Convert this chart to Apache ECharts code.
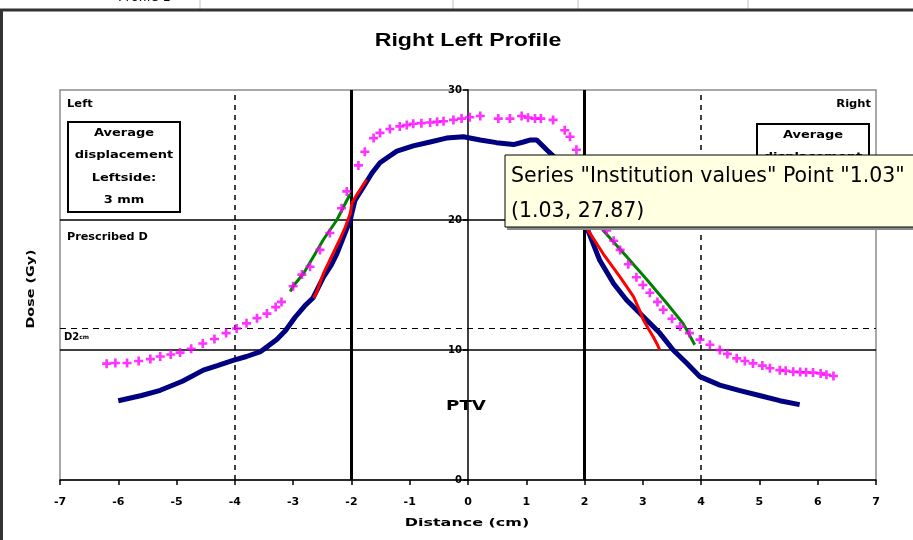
<!DOCTYPE html>
<html><head><meta charset="utf-8">
<script src="https://cdn.jsdelivr.net/npm/echarts@6/dist/echarts.min.js"></script>
<style>html,body{margin:0;padding:0;background:#fff}#c{width:913px;height:540px}</style>
</head><body><div id="c"></div>
<script>
// ---------- data ----------
const xTicks = [-7,-6,-5,-4,-3,-2,-1,0,1,2,3,4,5,6,7];
const yTicks = [0,10,20,30];
const navy = [[-6.0,6.1],[-5.6,6.5],[-5.28,6.9],[-4.9,7.6],[-4.54,8.45],[-4.3,8.8],[-4.03,9.2],[-3.8,9.5],[-3.57,9.85],[-3.43,10.3],[-3.28,10.8],[-3.13,11.5],[-2.97,12.5],[-2.8,13.4],[-2.66,14.0],[-2.48,15.6],[-2.35,16.5],[-2.25,17.4],[-2.11,19.0],[-2.02,20.0],[-1.94,21.5],[-1.8,22.5],[-1.65,23.6],[-1.51,24.4],[-1.35,24.9],[-1.22,25.3],[-0.94,25.7],[-0.65,26.0],[-0.37,26.3],[-0.08,26.4],[0.21,26.15],[0.49,25.95],[0.78,25.8],[0.95,26.0],[1.06,26.15],[1.18,26.15],[1.35,25.4],[1.49,24.8],[1.65,23.6],[1.8,22.2],[1.95,20.6],[2.04,19.4],[2.26,16.9],[2.5,15.1],[2.72,13.85],[3.0,12.6],[3.29,11.3],[3.52,10.0],[3.75,9.0],[3.98,7.95],[4.32,7.3],[4.65,6.9],[5.0,6.5],[5.35,6.1],[5.69,5.8]];
const institution = [[-6.2,8.95],[-6.05,9.0],[-5.85,9.0],[-5.65,9.15],[-5.45,9.3],[-5.28,9.5],[-5.1,9.65],[-4.94,9.8],[-4.75,10.1],[-4.55,10.5],[-4.35,10.85],[-4.15,11.3],[-3.97,11.65],[-3.8,12.05],[-3.62,12.45],[-3.45,12.8],[-3.3,13.3],[-3.2,13.7],[-3.0,14.9],[-2.85,15.8],[-2.71,16.4],[-2.54,17.7],[-2.37,19.0],[-2.17,20.9],[-2.08,22.2],[-1.88,24.2],[-1.77,25.25],[-1.62,26.3],[-1.51,26.7],[-1.34,27.0],[-1.17,27.2],[-1.05,27.3],[-0.94,27.4],[-0.8,27.45],[-0.65,27.5],[-0.53,27.55],[-0.42,27.6],[-0.25,27.7],[-0.11,27.8],[0.03,27.9],[0.21,28.0],[0.52,27.8],[0.72,27.8],[0.92,28.0],[1.03,27.87],[1.15,27.8],[1.25,27.8],[1.46,27.7],[1.66,26.9],[1.75,26.4],[1.86,25.4],[1.95,24.3],[2.05,23.0],[2.15,21.6],[2.25,20.3],[2.38,19.2],[2.5,18.4],[2.61,17.7],[2.75,16.6],[2.89,15.6],[3.0,15.0],[3.12,14.4],[3.25,13.7],[3.35,13.1],[3.5,12.4],[3.64,11.8],[3.8,11.3],[3.98,10.8],[4.15,10.4],[4.32,10.0],[4.45,9.7],[4.61,9.36],[4.75,9.15],[4.89,8.97],[5.05,8.8],[5.18,8.6],[5.35,8.45],[5.45,8.4],[5.58,8.33],[5.7,8.3],[5.8,8.28],[5.92,8.26],[6.05,8.2],[6.15,8.1],[6.27,8.0]];
const redLeft = [[-2.65,14.0],[-2.6,14.4],[-2.48,15.9],[-2.34,17.2],[-2.2,18.5],[-2.11,19.4],[-2.02,20.5],[-1.99,21.3],[-1.9,22.0],[-1.74,23.1]];
const redRight = [[1.95,20.8],[2.06,19.2],[2.32,17.4],[2.61,15.6],[2.84,14.1],[2.95,13.0],[3.01,12.3],[3.1,11.6],[3.18,11.0],[3.25,10.4],[3.29,10.0]];
const greenLeft = [[-3.05,14.5],[-3.0,14.9],[-2.82,15.9],[-2.65,17.2],[-2.48,18.5],[-2.25,20.0],[-2.08,21.5],[-2.02,22.0]];
const greenRight = [[2.15,20.5],[2.32,19.2],[2.72,17.2],[3.07,15.4],[3.41,13.6],[3.69,12.05],[3.89,10.4]];
const vLinesDashed = [-4,4];
const vLinesThick = [-2,2];
const hLinesSolid = [10,20];
const hLinesDashed = [11.7];

// ---------- chart ----------
const chart = echarts.init(document.getElementById('c'), null, {renderer:'canvas'});
const DJ = '"DejaVu Sans", sans-serif';
const plus = 'path://M3,0 L5.5,0 L5.5,3 L8.5,3 L8.5,5.5 L5.5,5.5 L5.5,8.5 L3,8.5 L3,5.5 L0,5.5 L0,3 L3,3 Z';

const GRID = {left:60, right:37, top:90, bottom:60};
const plotW = 913 - GRID.left - GRID.right;
const yAxisOffset = -plotW * (0 - (-7)) / (7 - (-7)); // place y axis at x = 0

const refLines = [];
vLinesDashed.forEach(v=>refLines.push({xAxis:v, lineStyle:{type:[5,5], width:1.5, color:'#000'}}));
vLinesThick.forEach(v=>refLines.push({xAxis:v, lineStyle:{type:'solid', width:3, color:'#000'}}));
hLinesSolid.forEach(v=>refLines.push({yAxis:v, lineStyle:{type:'solid', width:1.5, color:'#000'}}));
hLinesDashed.forEach(v=>refLines.push({yAxis:v, lineStyle:{type:[6,5], width:1.2, color:'#000'}}));

function lineSeries(name, data, color, w, z){
  return {name, type:'line', data, showSymbol:false, symbol:'none', smooth:false, z,
    lineStyle:{color, width:w}, itemStyle:{color}, animation:false};
}

const tipText1 = 'Series "Institution values" Point "1.03"';
const tipText2 = '(1.03, 27.87)';
function txt(x, y, t, opts){
  opts = opts || {};
  return {type:'text', x, y, scaleX:opts.sx||1.15, rotation:opts.rot||0, z:50,
    style:{text:t, font:opts.font||('bold 10px '+DJ), fill:'#000', align:opts.align||'left',
      verticalAlign:opts.va||'middle', lineHeight:opts.lh}};
}

chart.setOption({
  animation:false,
  backgroundColor:'#fff',
  grid:Object.assign({show:true, borderColor:'#8c8c8c', borderWidth:1.5, backgroundColor:'#fff'}, GRID),
  xAxis:{type:'value', min:-7, max:7, interval:1,
    axisLine:{show:true, onZero:false, lineStyle:{color:'#000', width:1.5}},
    axisTick:{show:true, length:5, lineStyle:{color:'#000', width:1.5}},
    axisLabel:{margin:17, fontFamily:DJ, fontWeight:'bold', fontSize:11, color:'#000'},
    splitLine:{show:false}},
  yAxis:{type:'value', min:0, max:30, interval:10, position:'left', offset:yAxisOffset,
    axisLine:{show:true, onZero:false, lineStyle:{color:'#000', width:1.5}},
    axisTick:{show:true, length:5, lineStyle:{color:'#000', width:1.5}},
    axisLabel:{margin:6, fontFamily:DJ, fontSize:10, fontWeight:'bold', color:'#000'},
    splitLine:{show:false}},
  graphic:[
    // spreadsheet strip above the chart
    {type:'text', x:118, y:-9, style:{text:'Profile 1', font:'13px '+DJ, fill:'#000'}, z:1},
    {type:'line', shape:{x1:200,y1:0,x2:200,y2:10}, style:{stroke:'#c0c0c0', lineWidth:1}},
    {type:'line', shape:{x1:453,y1:0,x2:453,y2:10}, style:{stroke:'#c0c0c0', lineWidth:1}},
    {type:'line', shape:{x1:578,y1:0,x2:578,y2:10}, style:{stroke:'#c0c0c0', lineWidth:1}},
    {type:'line', shape:{x1:748,y1:0,x2:748,y2:10}, style:{stroke:'#c0c0c0', lineWidth:1}},
    {type:'line', shape:{x1:0,y1:10,x2:913,y2:10}, style:{stroke:'#333', lineWidth:3}, z:60},
    {type:'line', shape:{x1:1.5,y1:10,x2:1.5,y2:540}, style:{stroke:'#333', lineWidth:3}, z:60},
    // titles
    txt(468, 41, 'Right Left Profile', {font:'bold 19px "Liberation Sans", Arial, sans-serif', align:'center', sx:1.22}),
    txt(467, 523, 'Distance (cm)', {font:'bold 11px '+DJ, align:'center', sx:1.45}),
    {type:'text', x:31, y:289, rotation:Math.PI/2, scaleX:1.3, z:50,
      style:{text:'Dose (Gy)', font:'bold 11px '+DJ, fill:'#000', align:'center', verticalAlign:'middle'}},
    // annotations inside the plot
    txt(67, 104, 'Left'),
    txt(871, 104, 'Right', {align:'right'}),
    {type:'rect', shape:{x:68,y:122,width:112,height:90}, style:{fill:'#fff', stroke:'#000', lineWidth:2}, z:40},
    txt(124, 167, 'Average\ndisplacement\nLeftside:\n3 mm', {align:'center', lh:22.5, sx:1.3}),
    {type:'rect', shape:{x:757,y:124,width:112,height:90}, style:{fill:'#fff', stroke:'#000', lineWidth:2}, z:40},
    txt(813, 169, 'Average\ndisplacement\nRightside:\n3 mm', {align:'center', lh:22.5, sx:1.3}),
    txt(67, 237, 'Prescribed D', {sx:1.12}),
    {type:'text', x:64, y:332, z:50, style:{rich:{a:{font:'bold 10px '+DJ, fill:'#000'}, b:{font:'bold 6px '+DJ, fill:'#000'}}, text:'{a|D2}{b|cm}'}},
    txt(466, 406, 'PTV', {font:'bold 14px '+DJ, align:'center', sx:1.3}),
    // tooltip box
    {type:'rect', shape:{x:507,y:157,width:420,height:73}, style:{fill:'#8a8a8a'}, z:99},
    {type:'rect', shape:{x:505,y:155,width:420,height:72}, style:{fill:'#ffffe1', stroke:'#000', lineWidth:1}, z:100},
    {type:'text', x:511, y:177, z:101, style:{text:tipText1, font:'20.5px '+DJ, fill:'#000', verticalAlign:'middle'}},
    {type:'text', x:511, y:212, z:101, style:{text:tipText2, font:'20.5px '+DJ, fill:'#000', verticalAlign:'middle'}}
  ],
  series:[
    Object.assign(lineSeries('Navy', navy, '#000080', 5, 3), {
      markLine:{silent:true, symbol:'none', label:{show:false}, animation:false, data:refLines, z:1}}),
    lineSeries('Red left', redLeft, '#ff0000', 3, 4),
    lineSeries('Red right', redRight, '#ff0000', 3, 4),
    lineSeries('Green left', greenLeft, '#008000', 3, 4),
    lineSeries('Green right', greenRight, '#008000', 3, 4),
    {name:'Institution values', type:'scatter', data:institution, symbol:plus, symbolSize:9, z:5,
      itemStyle:{color:'#ff00ff'}, animation:false}
  ]
});
</script>
</body></html>
